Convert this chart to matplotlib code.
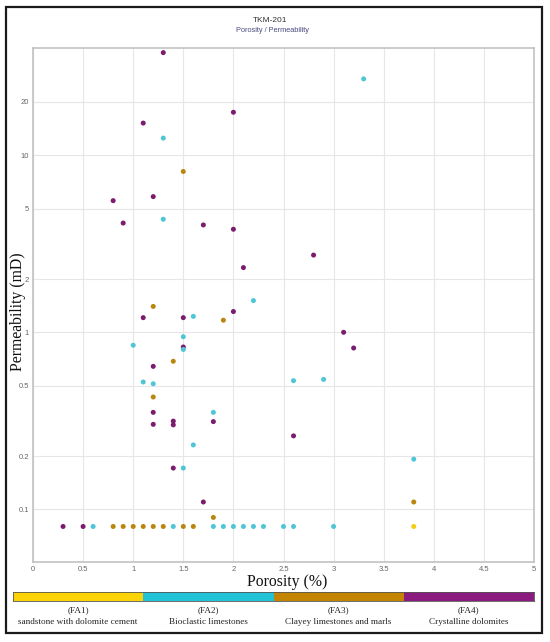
import matplotlib
matplotlib.use("Agg")
import matplotlib.pyplot as plt
from matplotlib.patches import Rectangle

# ---------------- data ----------------
facies_codes = ["(FA1)", "(FA2)", "(FA3)", "(FA4)"]
facies_names = ["sandstone with dolomite cement", "Bioclastic limestones",
                "Clayey limestones and marls", "Crystalline dolomites"]
marker_colors = ["#f3cd12", "#4ec6d6", "#b9870f", "#7b1c6e"]
band_colors = ["#fcd306", "#22c3d6", "#c38402", "#8c1b80"]

fa1_porosity = [3.8]
fa1_perm = [0.08]

fa2_porosity = [0.6, 1.4, 1.8, 1.9, 2.0, 2.1, 2.2, 2.3, 2.5, 2.6, 3.0,
                3.3, 1.3, 1.3, 2.2, 2.6, 2.9, 3.8, 1.6, 1.5, 1.0, 1.5,
                1.1, 1.2, 1.8, 1.6, 1.5]
fa2_perm = [0.08, 0.08, 0.08, 0.08, 0.08, 0.08, 0.08, 0.08, 0.08, 0.08, 0.08,
            27.0, 12.5, 4.35, 1.51, 0.533, 0.542, 0.192, 1.23, 0.944, 0.845, 0.80,
            0.524, 0.512, 0.353, 0.231, 0.171]

fa3_porosity = [0.8, 0.9, 1.0, 1.1, 1.2, 1.3, 1.5, 1.6, 1.8, 3.8, 1.5, 1.2, 1.9, 1.4, 1.2]
fa3_perm = [0.08, 0.08, 0.08, 0.08, 0.08, 0.08, 0.08, 0.08, 0.09, 0.11, 8.1, 1.4, 1.17, 0.686, 0.431]

fa4_porosity = [0.3, 0.5, 1.7, 1.3, 2.0, 1.1, 1.2, 0.8, 0.9, 1.7, 2.0, 2.8, 2.1, 2.0,
                1.1, 1.5, 3.1, 3.2, 1.5, 1.2, 1.2, 1.2, 1.4, 1.4, 1.8, 2.6, 1.4]
fa4_perm = [0.08, 0.08, 0.11, 38.0, 17.5, 15.2, 5.84, 5.54, 4.14, 4.04, 3.82, 2.73, 2.32, 1.31,
            1.21, 1.21, 1.0, 0.815, 0.826, 0.642, 0.353, 0.302, 0.315, 0.30, 0.313, 0.26, 0.171]

x_ticks = [0, 0.5, 1, 1.5, 2, 2.5, 3, 3.5, 4, 4.5, 5]
x_tick_labels = ["0", "0.5", "1", "1.5", "2", "2.5", "3", "3.5", "4", "4.5", "5"]
y_ticks = [0.1, 0.2, 0.5, 1, 2, 5, 10, 20]
y_tick_labels = ["0.1", "0.2", "0.5", "1", "2", "5", "10", "20"]

title = "TKM-201"
subtitle = "Porosity / Permeability"
x_label = "Porosity (%)"
y_label = "Permeability (mD)"

# ---------------- figure ----------------
W, H = 550, 642
fig = plt.figure(figsize=(W / 100, H / 100), dpi=100)
fig.patch.set_facecolor("white")

def fx(px):
    return px / W

def fy(py):
    return 1 - py / H

ax = fig.add_axes([fx(33), fy(562), fx(534) - fx(33), fy(48.3) - fy(562)])
ax.set_yscale("log")
ax.set_xlim(0, 5)
ax.set_ylim(0.0504, 40.2)
ax.set_xticks(x_ticks)
ax.set_xticklabels(x_tick_labels)
ax.set_yticks(y_ticks)
ax.set_yticklabels(y_tick_labels)
ax.minorticks_off()
ax.tick_params(axis="both", length=0, labelsize=5.5, labelcolor="#666666",
               pad=3)
for lab in ax.get_xticklabels() + ax.get_yticklabels():
    lab.set_family("Liberation Sans")
ax.grid(True, color="#e6e6e6", linewidth=0.8)
ax.set_axisbelow(True)
for s in ax.spines.values():
    s.set_color("#bdbdbd")
    s.set_linewidth(1.1)

series = [(fa4_porosity, fa4_perm, marker_colors[3]),
          (fa3_porosity, fa3_perm, marker_colors[2]),
          (fa2_porosity, fa2_perm, marker_colors[1]),
          (fa1_porosity, fa1_perm, marker_colors[0])]
for xs, ys, c in series:
    ax.scatter(xs, ys, s=13, color=c, edgecolors="none", zorder=3)

# titles
fig.text(fx(270), fy(20.7), title, ha="center", va="center",
         fontsize=6, color="#333333", family="Liberation Sans")
fig.text(fx(272.5), fy(30.5), subtitle, ha="center", va="center",
         fontsize=5.3, color="#4a4a80", family="Liberation Sans")

# axis labels
fig.text(fx(287), fy(582), x_label, ha="center", va="center",
         fontsize=11.3, color="#111111", family="Liberation Serif")
fig.text(fx(18), fy(312), y_label, ha="center", va="center", rotation=90,
         fontsize=11.3, color="#111111", family="Liberation Serif")

# facies colour band
bax = fig.add_axes([fx(13), fy(600.5), fx(534) - fx(13), fy(592) - fy(600.5)])
positions = list(range(len(band_colors)))
bax.bar(positions, [1] * len(positions), width=1.0, color=band_colors,
        edgecolor="none", align="center")
bax.set_xlim(-0.5, len(positions) - 0.5)
bax.set_ylim(0, 1)
bax.set_xticks([])
bax.set_yticks([])
for s in bax.spines.values():
    s.set_color("#555555")
    s.set_linewidth(0.6)

seg_w = (534 - 13) / 4
for i, (code, name) in enumerate(zip(facies_codes, facies_names)):
    cx = 13 + seg_w * (i + 0.5)
    fig.text(fx(cx), fy(610.5), code, ha="center", va="center",
             fontsize=6.6, color="#222222", family="Liberation Serif")
    fig.text(fx(cx), fy(622), name, ha="center", va="center",
             fontsize=6.6, color="#222222", family="Liberation Serif")

# outer frame
fig.patches.append(Rectangle((fx(6), fy(633)), fx(542) - fx(6), fy(7) - fy(633),
                             transform=fig.transFigure, fill=False,
                             edgecolor="#1a1a1a", linewidth=1.6))

fig.savefig("out.png", dpi=100, facecolor="white")
